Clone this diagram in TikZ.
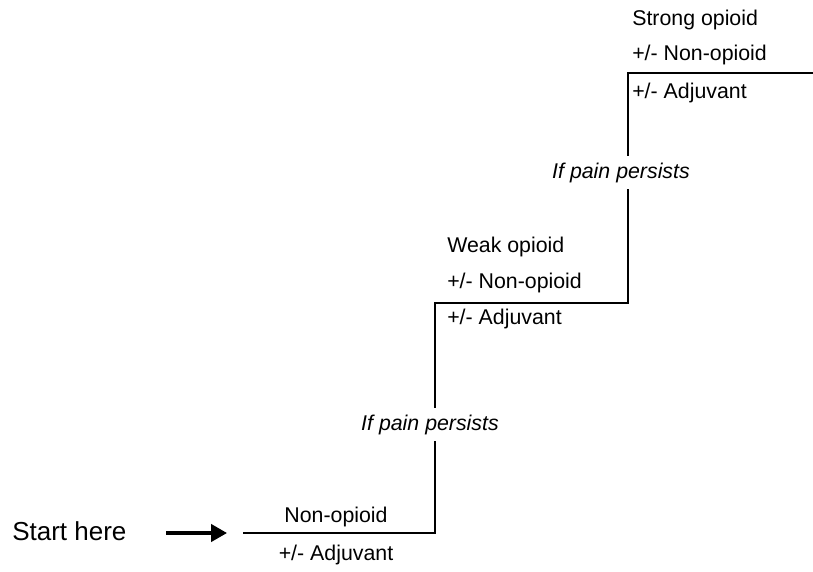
\documentclass[tikz,border=0pt]{standalone}
\usepackage{fontspec}
\setmainfont{Liberation Sans}
\usetikzlibrary{arrows.meta}

\tikzset{
  stair/.style={line width=1.2pt},
  drug/.style={inner sep=0pt,anchor=base west,font=\fontsize{16}{19}\selectfont},
  druglow/.style={drug,anchor=base},
  persist/.style={inner xsep=0pt,inner ysep=5pt,anchor=base,
    font=\fontsize{16}{19}\selectfont\itshape},
  startarrow/.style={line width=2.5pt,-{Triangle[length=12pt,width=13pt]}}
}

\begin{document}
\begin{tikzpicture}[x=0.75pt,y=-0.75pt]
    \useasboundingbox (0,0) rectangle (813,571);

    % corners of the ladder
    \coordinate (s0) at (243,533);
    \coordinate (s1) at (435,533);
    \coordinate (s2) at (435,303);
    \coordinate (s3) at (628,303);
    \coordinate (s4) at (628,73);
    \coordinate (s5) at (813,73);

    \node[persist] (gap1) at (430,430) {If pain persists};
    \node[persist] (gap2) at (621,178) {If pain persists};

    \draw[stair] (s0) -- (s1) -- (gap1.south -| s1);
    \draw[stair] (gap1.north -| s1) -- (s2) -- (s3) -- (gap2.south -| s3);
    \draw[stair] (gap2.north -| s3) -- (s4) -- (s5);

    % step 1
    \node[druglow] (nonop1) at (336,522) {Non-opioid};
    \node[druglow] (adj1) at (336,560) {+/- Adjuvant};

    % step 2
    \node[drug] (weak) at (447,252) {Weak opioid};
    \node[drug] (nonop2) at (447,288) {+/- Non-opioid};
    \node[drug] (adj2) at (447,324) {+/- Adjuvant};

    % step 3
    \node[drug] (strong) at (632,25.5) {Strong opioid};
    \node[drug] (nonop3) at (632,60) {+/- Non-opioid};
    \node[drug] (adj3) at (632,98) {+/- Adjuvant};

    \node[inner sep=0pt,anchor=base west,font=\fontsize{19.5}{23}\selectfont]
      (start) at (12,540.5) {Start here};
    \coordinate (tail) at (166,533);
    \coordinate (head) at (227,533);
    \draw[startarrow] (tail) -- (head);
\end{tikzpicture}
\end{document}
